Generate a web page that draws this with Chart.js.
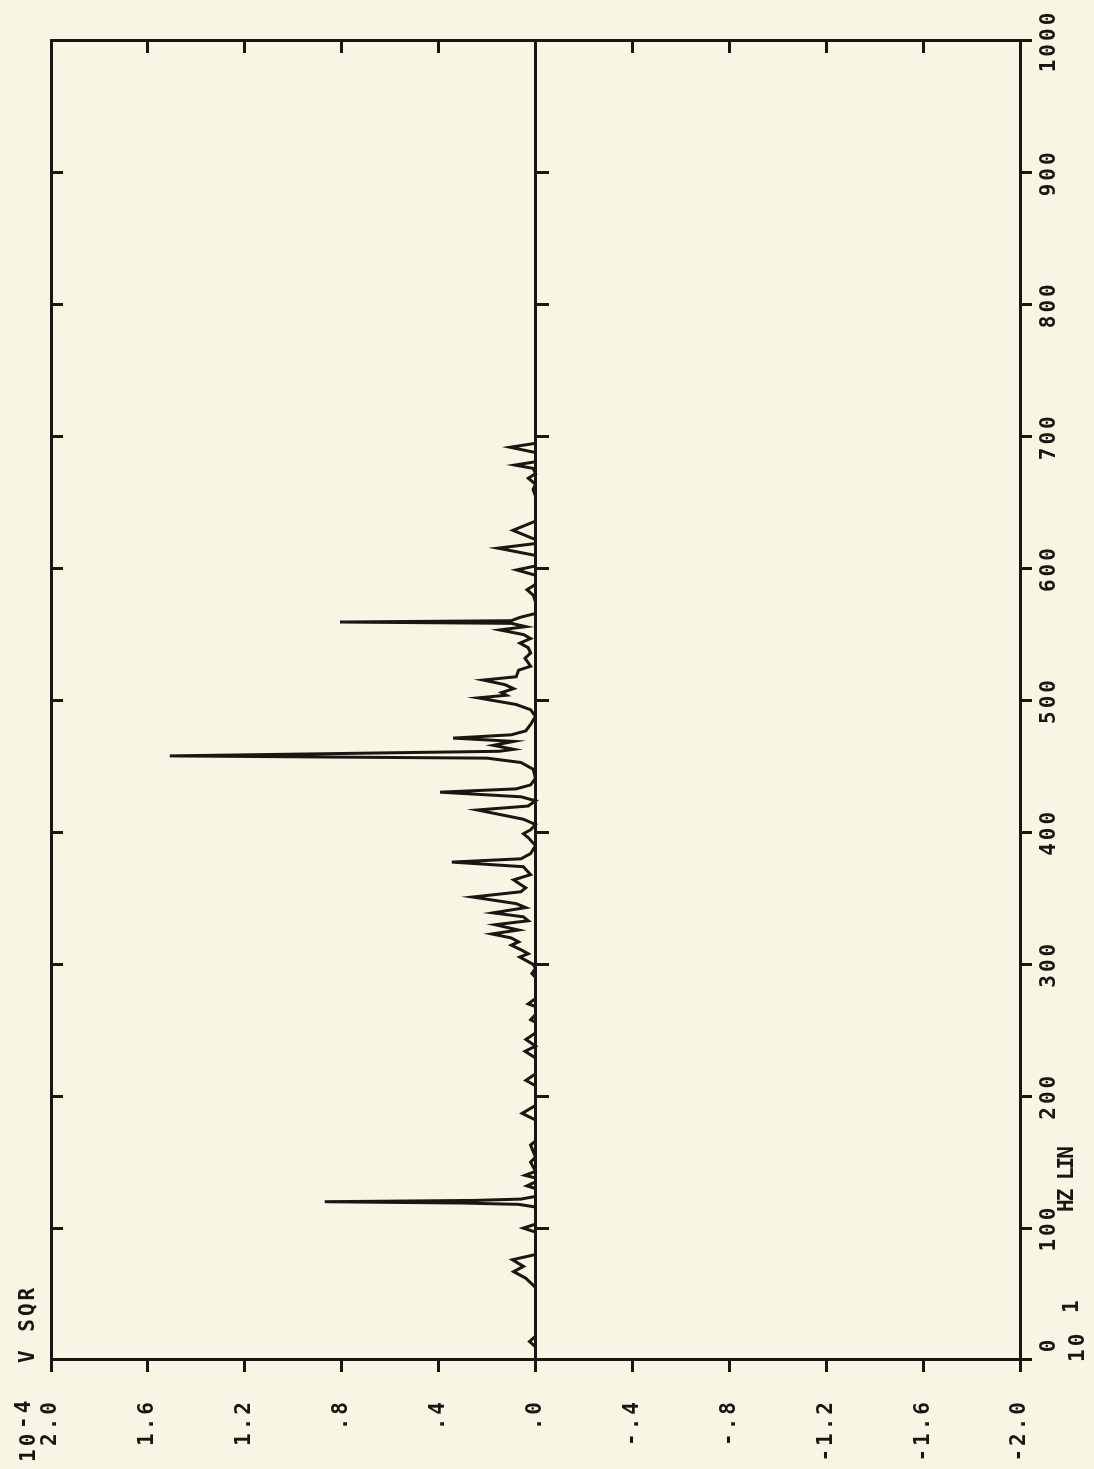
<!DOCTYPE html>
<html>
<head>
<meta charset="utf-8">
<title>V SQR spectrum</title>
<script src="https://cdn.jsdelivr.net/npm/chart.js@4.4.1/dist/chart.umd.min.js"></script>
<style>
  html, body { margin: 0; padding: 0; background: #f8f5e5; overflow: hidden; }
  body { width: 1094px; height: 1469px; position: relative; }
  /* the plot is drawn upright, then turned a quarter to the left like the scan */
  #wrap { position: absolute; left: 0; top: 0; width: 1469px; height: 1094px;
          transform-origin: 0 0; transform: translate(0, 1469px) rotate(-90deg); }
</style>
</head>
<body>
<div id="wrap"><canvas id="plot" width="1469" height="1094"></canvas></div>
<script>
// ── data ───────────────────────────────────────────────────────────────────
const freqHz = [
    0, 10, 14, 18, 55, 62, 67, 71, 76, 80,
    97, 100, 103, 116, 118, 119, 120, 121, 122, 124,
    130, 132, 135, 138, 140, 143, 150, 154, 163, 166,
    182, 187, 193, 208, 212, 217, 229, 234, 238, 243,
    248, 256, 258, 262, 268, 270, 274, 290, 293, 297,
    300, 303, 305.5, 308, 311, 314.5, 317, 320, 323, 326,
    330, 333, 336, 339, 343, 346, 351, 355, 358, 361.5,
    364, 368, 374, 377.5, 380, 384, 390, 396, 399, 402,
    406, 410, 417, 420, 424, 427, 430.5, 433, 436, 441,
    448, 453, 456.3, 458, 461.5, 463, 466, 469, 471.5, 474,
    477, 482, 488, 493, 497, 502, 504, 506, 509, 512,
    515.5, 518, 523, 526, 532, 536, 540, 543.5, 547, 550,
    553.5, 556, 558.5, 559.5, 560.5, 563, 566, 575, 580, 584,
    588, 595, 599, 602, 610, 615.5, 619, 622, 629, 636,
    655, 660, 664, 668.5, 672, 676, 678.5, 681, 688, 692,
    695, 705
];
const vSqr = [
    0, 0, 0.025, 0, 0, 0.04, 0.09, 0.05, 0.095, 0,
    0, 0.05, 0, 0, 0.07, 0.3, 0.87, 0.25, 0.06, 0,
    0, 0.035, 0, 0, 0.043, 0, 0.02, 0, 0.02, 0,
    0, 0.055, 0, 0, 0.04, 0, 0, 0.043, 0, 0.04,
    0, 0, 0.02, 0, 0, 0.03, 0, 0, 0.015, 0,
    0.01, 0.04, 0.065, 0.03, 0.06, 0.1, 0.07, 0.1, 0.18, 0.07,
    0.167, 0.03, 0.05, 0.175, 0.04, 0.08, 0.26, 0.06, 0.04, 0.07,
    0.09, 0.02, 0.05, 0.345, 0.06, 0.02, 0, 0.03, 0.05, 0.02,
    0, 0.05, 0.24, 0.03, 0, 0.06, 0.394, 0.08, 0.02, 0,
    0.01, 0.06, 0.2, 1.51, 0.15, 0.09, 0.175, 0.09, 0.34, 0.1,
    0.04, 0.02, 0, 0.02, 0.08, 0.237, 0.12, 0.14, 0.09, 0.126,
    0.216, 0.08, 0.07, 0.02, 0.043, 0.02, 0.03, 0.064, 0.02, 0.05,
    0.147, 0.04, 0.1, 0.807, 0.1, 0.064, 0, 0, 0.01, 0.035,
    0, 0, 0.078, 0, 0, 0.155, 0, 0, 0.093, 0,
    0, 0.01, 0, 0.03, 0, 0.01, 0.085, 0, 0, 0.105,
    0, 0
];
const freqTickLabels = ['  0', '100', '200', '300', '400', '500', '600', '700', '800', '900', '1000'];
const vTickLabels    = ['-2.0', '-1.6', '-1.2', '-.8', '-.4', '.0', '.4', '.8', '1.2', '1.6', '2.0'];

// ── look ───────────────────────────────────────────────────────────────────
const INK  = '#1c1612';
const MONO = "'DejaVu Sans Mono', 'Liberation Mono', monospace";

// plotter-style wide letter spacing for every text on the canvas
const spacing = {
    id: 'spacing',
    beforeDraw(chart) { chart.ctx.letterSpacing = '3px'; }
};

// the extra captions: unit exponents, V SQR, HZ LIN
const captions = {
    id: 'captions',
    afterDraw(chart) {
        const ctx = chart.ctx;
        ctx.save();
        ctx.fillStyle = INK;
        ctx.textBaseline = 'middle';
        ctx.textAlign = 'left';
        ctx.font = 'bold 21px ' + MONO;
        ctx.letterSpacing = '3px';
        ctx.fillText('V SQR', 106, 29);
        ctx.fillText('10', 7, 30);
        ctx.fillText('-4', 40, 25);
        ctx.fillText('10', 107, 1079);
        ctx.fillText('1', 156, 1073);
        ctx.letterSpacing = '-2px';
        ctx.fillText('HZ LIN', 257, 1068);
        ctx.restore();
    }
};

const frame = (extra) => Object.assign({
    border: { display: true, color: INK, width: 3 },
    grid:   { drawOnChartArea: false, color: INK, lineWidth: 3, tickLength: 12 },
}, extra);

const tickFont = { family: MONO, size: 21, weight: 'bold' };

new Chart(document.getElementById('plot'), {
    type: 'line',
    data: {
        datasets: [{
            data: freqHz.map((f, i) => ({ x: f, y: vSqr[i] })),
            borderColor: INK,
            borderWidth: 3,
            pointRadius: 0,
            tension: 0,
            fill: false,
            xAxisID: 'x',
            yAxisID: 'y',
        }]
    },
    options: {
        responsive: false,
        animation: false,
        devicePixelRatio: 1,
        layout: { padding: 0 },
        plugins: { legend: { display: false }, tooltip: { enabled: false } },
        scales: {
            x: frame({
                type: 'linear', position: 'bottom', min: 0, max: 1000,
                ticks: {
                    count: 11, autoSkip: false, maxRotation: 0, padding: 5,
                    color: INK, font: tickFont,
                    callback: (v, i) => freqTickLabels[i],
                },
                afterFit: s => { s.height = 74; },
            }),
            xTop: frame({
                type: 'linear', position: 'top', min: 0, max: 1000,
                ticks: { count: 11, display: false },
                grid: { drawOnChartArea: false, color: INK, lineWidth: 3, tickLength: -12 },
                afterFit: s => { s.height = 51; },
            }),
            xZero: frame({
                type: 'linear', position: { y: 0 }, min: 0, max: 1000,
                ticks: { count: 11, display: false },
            }),
            y: frame({
                type: 'linear', position: 'left', min: -2, max: 2,
                ticks: {
                    count: 11, padding: 27,
                    color: INK, font: tickFont,
                    callback: (v, i) => vTickLabels[i],
                },
                afterFit: s => { s.width = 109; },
            }),
            yRight: frame({
                type: 'linear', position: 'right', min: -2, max: 2,
                ticks: { count: 11, display: false },
                grid: { drawOnChartArea: false, color: INK, lineWidth: 3, tickLength: -12 },
                afterFit: s => { s.width = 41; },
            }),
        }
    },
    plugins: [spacing, captions]
});
</script>
</body>
</html>
